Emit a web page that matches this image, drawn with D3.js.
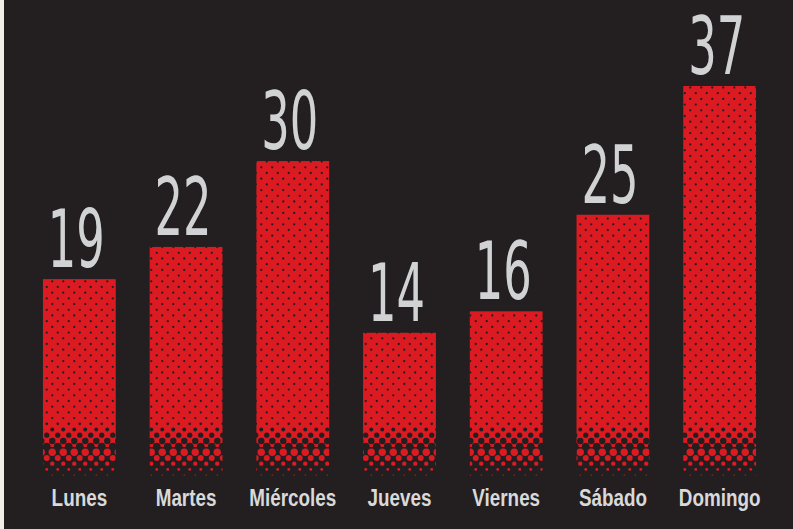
<!DOCTYPE html>
<html>
<head>
<meta charset="utf-8">
<script src="https://cdn.jsdelivr.net/npm/d3@7"></script>
<style>
  body { margin: 0; background: #231f20; }
  svg { display: block; }
</style>
</head>
<body>
<div id="chart"></div>
<script>
// days of the week and their counts
const dias = ["Lunes", "Martes", "Miércoles", "Jueves", "Viernes", "Sábado", "Domingo"];
const valores = [19, 22, 30, 14, 16, 25, 37];

const svgWidth = 793;
const svgHeight = 529;
const barBase = 477; // where the halftone fade runs out

const svg = d3.select("#chart")
    .append("svg")
    .attr("width", svgWidth)
    .attr("height", svgHeight);

// background plus the thin light strip on the left edge
svg.append("rect")
    .attr("width", svgWidth)
    .attr("height", svgHeight)
    .attr("fill", "#231f20");
svg.append("rect")
    .attr("width", 4)
    .attr("height", svgHeight)
    .attr("fill", "#f1eee7");

const x = d3.scaleBand()
    .domain(dias)
    .range([26, 773])
    .paddingInner(0.318)
    .paddingOuter(0.159);

const y = d3.scaleLinear()
    .domain([0, 37])
    .range([483, 86]);

// halftone pattern: small dark dots on red, growing near the bottom,
// then flipping to red dots that shrink into the background
const red = "#dc1a22";
const dark = "#231f20";
const defs = svg.append("defs");
const pat = defs.append("pattern")
    .attr("id", "halftone")
    .attr("patternUnits", "userSpaceOnUse")
    .attr("width", 11)
    .attr("height", svgHeight);

const flipY = 447;
const rowStep = 5.7;
const rows = d3.range(0, Math.ceil(barBase / rowStep)).map(k => ({ k: k, cy: 2 + k * rowStep }));

// red ground up to the flip, then red dots on the dark below it
pat.append("rect")
    .attr("width", 11)
    .attr("height", flipY)
    .attr("fill", red);

rows.forEach(function (row) {
    const cy = row.cy;
    let r, col;
    if (cy < 422) { r = 1.15; col = dark; }
    else if (cy < flipY) { r = 1.15 + (cy - 422) / (flipY - 422) * 2.8; col = dark; }
    else { r = Math.max(0.5, 4.4 - (cy - flipY) / (barBase - flipY) * 4.0); col = red; }
    const cx = (row.k % 2) ? 8.25 : 2.75;
    [cx - 11, cx, cx + 11].forEach(function (px) {
        pat.append("circle")
            .attr("cx", px)
            .attr("cy", cy)
            .attr("r", r)
            .attr("fill", col);
    });
});

const data = dias.map((d, i) => ({ dia: d, valor: valores[i] }));

// bars
svg.selectAll(".bar")
    .data(data)
    .enter()
    .append("rect")
    .attr("class", "bar")
    .attr("x", d => x(d.dia))
    .attr("y", d => y(d.valor))
    .attr("width", x.bandwidth())
    .attr("height", d => barBase - y(d.valor))
    .attr("fill", "url(#halftone)");

// value labels, tall and narrow
svg.selectAll(".valor")
    .data(data)
    .enter()
    .append("text")
    .attr("class", "valor")
    .attr("transform", d => `translate(${x(d.dia) + x.bandwidth() / 2 - 3},${y(d.valor) - 12}) scale(0.56,1)`)
    .attr("text-anchor", "middle")
    .attr("font-family", "'DejaVu Sans', sans-serif")
    .attr("font-size", 80)
    .attr("fill", "#d1d2d4")
    .text(d => d.valor);

// day labels, bold and condensed
svg.selectAll(".dia")
    .data(data)
    .enter()
    .append("text")
    .attr("class", "dia")
    .attr("transform", d => `translate(${x(d.dia) + x.bandwidth() / 2},506) scale(0.82,1)`)
    .attr("text-anchor", "middle")
    .attr("font-family", "'Liberation Sans', Arial, sans-serif")
    .attr("font-weight", "bold")
    .attr("font-size", 23)
    .attr("fill", "#d9d9da")
    .text(d => d.dia);
</script>
</body>
</html>
